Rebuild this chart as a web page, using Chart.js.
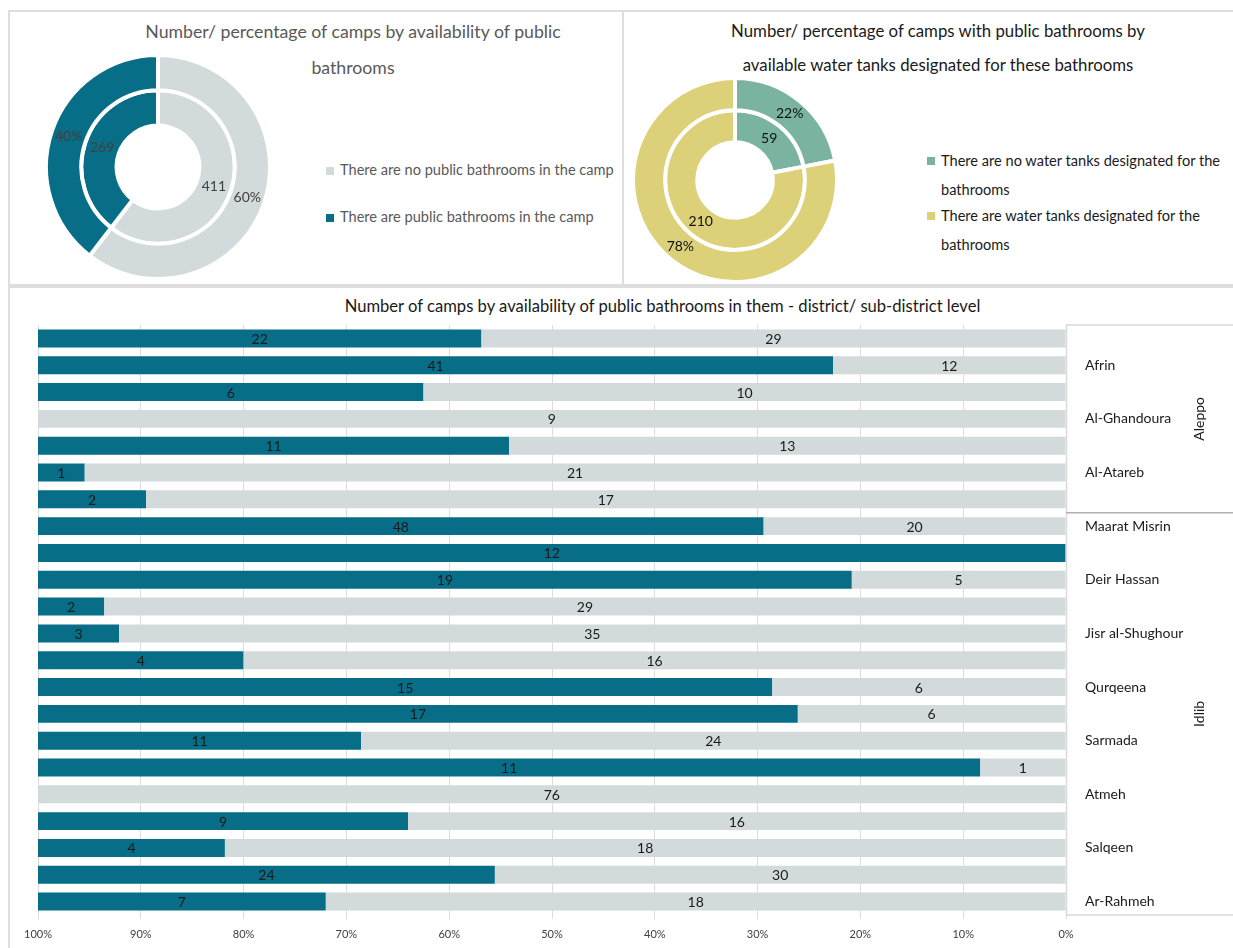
<!DOCTYPE html>
<html>
<head>
<meta charset="utf-8">
<script src="https://cdn.jsdelivr.net/npm/chart.js@4.4.1/dist/chart.umd.min.js"></script>
<style>
    body { margin: 0; background: #fff; font-family: Lato, "Noto Sans", sans-serif; }
    #page { position: relative; width: 1233px; height: 948px; overflow: hidden; }
    .panel { position: absolute; border: 2px solid #dedede; box-sizing: border-box; }
    .title { position: absolute; text-align: center; line-height: 36px; }
    canvas { position: absolute; }
    .legend { position: absolute; }
    .legend .item { position: relative; padding-left: 14px; }
    .legend .item i { position: absolute; left: 0; width: 8px; height: 8px; }
</style>
</head>
<body>
<div id="page">
    <div class="panel" style="left:8px;top:10px;width:616px;height:276px;"></div>
    <div class="panel" style="left:622px;top:10px;width:630px;height:276px;"></div>
    <div class="panel" style="left:8px;top:286px;width:1240px;height:680px;"></div>

    <div class="title" style="left:100px;top:14px;width:506px;font-size:17.7px;color:#595959;">
        Number/ percentage of camps by availability of public<br>bathrooms</div>
    <div class="title" style="left:680px;top:14px;width:516px;font-size:16.8px;color:#1a1a1a;line-height:34px;">
        Number/ percentage of camps with public bathrooms by<br>available water tanks designated for these bathrooms</div>

    <canvas id="bathChart" width="228" height="228" style="left:44px;top:53px;"></canvas>
    <canvas id="tankChart" width="208" height="208" style="left:631px;top:76px;"></canvas>

    <div class="legend" id="bathLegend" style="left:326px;top:160px;font-size:14.6px;color:#595959;"></div>
    <div class="legend" id="tankLegend" style="left:927px;top:146px;width:310px;font-size:14.6px;color:#1a1a1a;line-height:29px;"></div>

    <div class="title" style="left:10px;top:288px;width:1305px;font-size:16.6px;color:#1a1a1a;">
        Number of camps by availability of public bathrooms in them - district/ sub-district level</div>
    <canvas id="barChart" width="1223" height="650" style="left:10px;top:298px;"></canvas>
</div>

<script>
    var FONT = 'Lato, "Noto Sans", sans-serif';

    // top left doughnut
    var bathLabels = ['There are no public bathrooms in the camp', 'There are public bathrooms in the camp'];
    var bathCounts = [411, 269];
    var bathColors = ['#d3dadc', '#086e87'];

    // top right doughnut
    var tankLabels = ['There are no water tanks designated for the bathrooms', 'There are water tanks designated for the bathrooms'];
    var tankCounts = [59, 210];
    var tankColors = ['#7ab4a1', '#dcd078'];

    // bottom bars (only every other sub-district name is shown in the original)
    var subDistricts = ['', 'Afrin', '', 'Al-Ghandoura', '', 'Al-Atareb', '', 'Maarat Misrin', '', 'Deir Hassan', '',
        'Jisr al-Shughour', '', 'Qurqeena', '', 'Sarmada', '', 'Atmeh', '', 'Salqeen', '', 'Ar-Rahmeh'];
    var withBathrooms = [22, 41, 6, 0, 11, 1, 2, 48, 12, 19, 2, 3, 4, 15, 17, 11, 11, 0, 9, 4, 24, 7];
    var withoutBathrooms = [29, 12, 10, 9, 13, 21, 17, 20, 0, 5, 29, 35, 16, 6, 6, 24, 1, 76, 16, 18, 30, 18];
    var districts = ['Aleppo', 'Idlib'];
    var districtSizes = [7, 15];
    var pctTicks = [0, 10, 20, 30, 40, 50, 60, 70, 80, 90, 100];

    function buildLegend(id, labels, colors) {
        var box = document.getElementById(id);
        labels.forEach(function (txt, i) {
            var d = document.createElement('div');
            d.className = 'item';
            d.innerHTML = '<i></i>' + txt;
            d.querySelector('i').style.background = colors[i];
            box.appendChild(d);
        });
    }
    buildLegend('bathLegend', bathLabels, bathColors);
    document.querySelectorAll('#bathLegend .item').forEach(function (el, i) {
        el.style.lineHeight = '20px';
        el.style.marginBottom = '27px';
        el.querySelector('i').style.top = '7px';
    });
    buildLegend('tankLegend', tankLabels, tankColors);
    document.querySelectorAll('#tankLegend .item').forEach(function (el) {
        el.style.marginBottom = '-3px';
        el.querySelector('i').style.top = '11px';
    });

    // writes the numbers on doughnut arcs
    var arcLabels = {
        id: 'arcLabels',
        afterDatasetsDraw: function (chart) {
            var ctx = chart.ctx;
            ctx.save();
            ctx.font = '14px ' + FONT;
            ctx.textAlign = 'center';
            ctx.textBaseline = 'middle';
            ctx.fillStyle = chart.options.labelColor;
            chart.data.datasets.forEach(function (ds, di) {
                var total = ds.data.reduce(function (a, b) { return a + b; }, 0);
                chart.getDatasetMeta(di).data.forEach(function (arc, i) {
                    var p = arc.tooltipPosition();
                    var txt = di === 0 ? Math.round(ds.data[i] / total * 100) + '%' : ds.data[i];
                    ctx.fillText(txt, p.x, p.y);
                });
            });
            ctx.restore();
        }
    };

    function doughnut(id, labels, counts, colors, labelColor) {
        return new Chart(document.getElementById(id), {
            type: 'doughnut',
            data: {
                labels: labels,
                datasets: [
                    { data: counts, backgroundColor: colors, borderColor: '#fff', borderWidth: 4 },
                    { data: counts, backgroundColor: colors, borderColor: '#fff', borderWidth: 4 }
                ]
            },
            options: {
                responsive: false,
                animation: false,
                cutout: '37%',
                labelColor: labelColor,
                plugins: { legend: { display: false }, tooltip: { enabled: false } }
            },
            plugins: [arcLabels]
        });
    }
    doughnut('bathChart', bathLabels, bathCounts, bathColors, '#404040');
    doughnut('tankChart', tankLabels, tankCounts, tankColors, '#111');

    // percentages for the 100% stacked bars
    var pctWith = withBathrooms.map(function (v, i) { return v / (v + withoutBathrooms[i]) * 100; });
    var pctWithout = withoutBathrooms.map(function (v, i) { return v / (v + withBathrooms[i]) * 100; });

    var barLabels = {
        id: 'barLabels',
        afterDatasetsDraw: function (chart) {
            var ctx = chart.ctx;
            ctx.save();
            ctx.font = '14px ' + FONT;
            ctx.textAlign = 'center';
            ctx.textBaseline = 'middle';
            ctx.fillStyle = '#1a1a1a';
            chart.data.datasets.forEach(function (ds, di) {
                chart.getDatasetMeta(di).data.forEach(function (bar, i) {
                    if (!ds.counts[i]) return;
                    ctx.fillText(ds.counts[i], (bar.x + bar.base) / 2, bar.y + 1);
                });
            });
            ctx.restore();
        }
    };

    var districtBox = {
        id: 'districtBox',
        afterDraw: function (chart) {
            var ctx = chart.ctx, area = chart.chartArea, y = chart.scales.y;
            var band = (y.getPixelForValue(1) - y.getPixelForValue(0));
            ctx.save();
            ctx.strokeStyle = '#d9d9d9';
            ctx.lineWidth = 1.5;
            ctx.strokeRect(area.right + 0.5, area.top, chart.width, area.bottom - area.top);
            var start = 0;
            ctx.font = '14px ' + FONT;
            ctx.fillStyle = '#1a1a1a';
            ctx.textAlign = 'center';
            ctx.textBaseline = 'middle';
            districts.forEach(function (name, g) {
                var end = start + districtSizes[g] - 1;
                var top = y.getPixelForValue(start) - band / 2;
                var bottom = y.getPixelForValue(end) + band / 2;
                if (g > 0) {
                    ctx.strokeStyle = '#b0b0b0';
                    ctx.beginPath();
                    ctx.moveTo(area.right, top);
                    ctx.lineTo(chart.width, top);
                    ctx.stroke();
                }
                ctx.save();
                ctx.translate(area.right + 133, (top + bottom) / 2);
                ctx.rotate(-Math.PI / 2);
                ctx.fillText(name, 0, 0);
                ctx.restore();
                start = end + 1;
            });
            ctx.restore();
        }
    };

    new Chart(document.getElementById('barChart'), {
        type: 'bar',
        data: {
            labels: subDistricts,
            datasets: [{
                label: 'There are no public bathrooms in the camp',
                data: pctWithout,
                counts: withoutBathrooms,
                backgroundColor: '#d3dadc',
                barPercentage: 0.67,
                categoryPercentage: 1
            }, {
                label: 'There are public bathrooms in the camp',
                data: pctWith,
                counts: withBathrooms,
                backgroundColor: '#086e87',
                barPercentage: 0.67,
                categoryPercentage: 1
            }]
        },
        options: {
            indexAxis: 'y',
            responsive: false,
            animation: false,
            layout: { padding: { left: 28, top: 27, right: 0, bottom: 0 } },
            plugins: { legend: { display: false }, tooltip: { enabled: false } },
            scales: {
                x: {
                    stacked: true,
                    reverse: true,
                    min: 0,
                    max: 100,
                    afterBuildTicks: function (s) {
                        s.ticks = pctTicks.map(function (v) { return { value: v }; });
                    },
                    afterFit: function (s) { s.height = 33; },
                    ticks: {
                        callback: function (v) { return v + '%'; },
                        font: { size: 11, family: FONT },
                        color: '#404040',
                        padding: 9
                    },
                    grid: { color: '#dcdcdc', tickLength: 4 },
                    border: { display: false }
                },
                y: {
                    stacked: true,
                    position: 'right',
                    afterFit: function (s) { s.width = 167; },
                    grid: { display: false },
                    border: { display: false },
                    ticks: {
                        autoSkip: false,
                        padding: 11,
                        font: { size: 14, family: FONT },
                        color: '#1a1a1a'
                    }
                }
            }
        },
        plugins: [barLabels, districtBox]
    });
</script>
</body>
</html>
